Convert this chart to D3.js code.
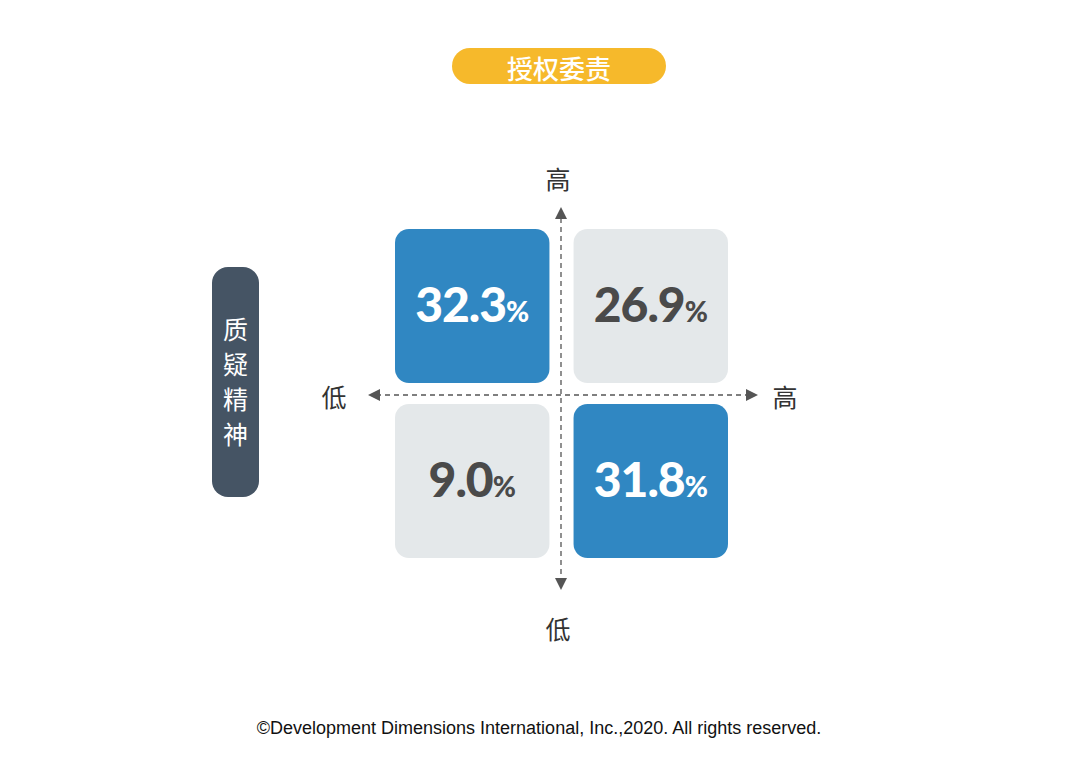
<!DOCTYPE html>
<html><head><meta charset="utf-8">
<script src="https://cdn.jsdelivr.net/npm/d3@7"></script>
<style>body{margin:0;background:#fff}</style></head>
<body><svg id="c" width="1080" height="780"></svg>
<script>
const xCats = ["低","高"];
const yCats = ["低","高"];
const values = [
  {x:"低", y:"高", v:"32.3", hi:true},
  {x:"高", y:"高", v:"26.9", hi:false},
  {x:"低", y:"低", v:"9.0", hi:false},
  {x:"高", y:"低", v:"31.8", hi:true}
];
const title = "授权委责";
const yTitle = "质疑精神";
const footer = "©Development Dimensions International, Inc.,2020. All rights reserved.";

const svg = d3.select("#c");
const cjk = "'Noto Sans CJK SC', sans-serif";
const x = d3.scaleBand().domain(xCats).range([395,728]).paddingInner(0.135);
const y = d3.scaleBand().domain(["高","低"]).range([229,558]).paddingInner(0.12);

// title pill
svg.append("rect").attr("x",452).attr("y",48).attr("width",214).attr("height",36).attr("rx",18).attr("fill","#F6B92B");
svg.append("text").attr("x",559).attr("y",67).attr("text-anchor","middle").attr("dominant-baseline","central")
  .attr("font-family",cjk).attr("font-size",26).attr("font-weight",500).attr("fill","#fff").text(title);

// left pill
svg.append("rect").attr("x",212).attr("y",267).attr("width",47).attr("height",230).attr("rx",16).attr("fill","#455464");
const chars = yTitle.split("");
chars.forEach((c,i)=>svg.append("text").attr("x",235.5).attr("y",328+i*35).attr("text-anchor","middle").attr("dominant-baseline","central")
  .attr("font-family",cjk).attr("font-size",25).attr("fill","#fff").text(c));

// cells
const g = svg.append("g");
values.forEach(d=>{
  const cx = x(d.x), cy = y(d.y), w = x.bandwidth(), h = y.bandwidth();
  g.append("rect").attr("x",cx).attr("y",cy).attr("width",w).attr("height",h).attr("rx",14)
    .attr("fill", d.hi ? "#3087C2" : "#E4E8EA");
  const t = g.append("text").attr("x",cx+w/2).attr("y",cy+h/2+16).attr("text-anchor","middle")
    .attr("font-family","Lato, 'Open Sans', sans-serif").attr("font-weight",900)
    .attr("fill", d.hi ? "#fff" : "#4a4a4a");
  t.append("tspan").attr("font-size",48).attr("letter-spacing",-1).text(d.v);
  t.append("tspan").attr("font-size",28).text("%");
});

// axes
const ax = svg.append("g").attr("stroke","#555").attr("stroke-width",1.3).attr("stroke-dasharray","5,4");
ax.append("line").attr("x1",561).attr("x2",561).attr("y1",218).attr("y2",580);
ax.append("line").attr("x1",376).attr("x2",752).attr("y1",395).attr("y2",395);
const arr = svg.append("g").attr("fill","#555");
arr.append("path").attr("d","M561,207 L555,219 L567,219Z");
arr.append("path").attr("d","M561,590 L555,578 L567,578Z");
arr.append("path").attr("d","M368,395 L380,389 L380,401Z");
arr.append("path").attr("d","M758,395 L746,389 L746,401Z");

const lab = (t,xx,yy)=>svg.append("text").attr("x",xx).attr("y",yy).attr("text-anchor","middle").attr("dominant-baseline","central")
  .attr("font-family",cjk).attr("font-size",25).attr("fill","#333").text(t);
lab(yCats[1],558,178); lab(yCats[0],558,628); lab(xCats[0],334,396); lab(xCats[1],785,396);

svg.append("text").attr("x",539).attr("y",728).attr("text-anchor","middle").attr("dominant-baseline","central")
  .attr("font-family","Arial, 'Liberation Sans', sans-serif").attr("font-size",18).attr("fill","#111").text(footer);
</script></body></html>
